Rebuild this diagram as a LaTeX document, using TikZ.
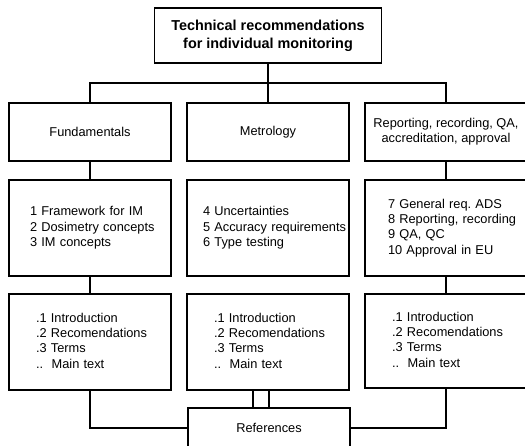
\documentclass[tikz,border=0pt]{standalone}
\usepackage{fontspec}
\setmainfont{Liberation Sans}
\usetikzlibrary{calc}

\newcommand{\lst}[1]{\begin{tabular}{@{}l@{}}#1\end{tabular}}

\tikzset{
  box/.style={draw, line width=1.5pt, minimum width=162pt,
    font=\fontsize{12.8}{15.3}\selectfont},
  topic/.style={box, minimum height=58pt, align=center, inner sep=0pt},
  chap/.style 2 args={box, minimum height=96pt, inner xsep=#1, text width=#2},
  link/.style={line width=1.5pt}
}

\begin{document}
\begin{tikzpicture}[x=1pt,y=-1pt]
\useasboundingbox (0,0) rectangle (525,446);
\node[draw, line width=1.5pt, minimum width=227pt, minimum height=55pt, align=center,
  font=\bfseries\fontsize{14.4}{18}\selectfont] (title) at (268,35.5)
  {Technical recommendations\\for individual monitoring};
\node[topic] (fund) at (90,132) {Fundamentals};
\node[topic] (metr) at (268,132) {Metrology};
\node[topic] (repo) at (446,132) {Reporting, recording, QA,\\accreditation, approval};
\node[chap={21pt}{120pt}] (fund2) at (90,228)
  {\lst{1 Framework for IM\\2 Dosimetry concepts\\3 IM concepts}};
\node[chap={16pt}{130pt}] (metr2) at (268,228)
  {\lst{4 Uncertainties\\5 Accuracy requirements\\6 Type testing}};
\node[chap={23pt}{116pt}] (repo2) at (446,228)
  {\lst{7 General req.\ ADS\\8 Reporting, recording\\9 QA, QC\\10 Approval in EU}};
\node[chap={27pt}{108pt}] (fund3) at (90,342)
  {\lst{.1 Introduction\\.2 Recomendations\\.3 Terms\\..\ \ Main text}};
\node[chap={27pt}{108pt}] (metr3) at (268,342)
  {\lst{.1 Introduction\\.2 Recomendations\\.3 Terms\\..\ \ Main text}};
\node[chap={27pt}{108pt}, minimum height=94pt] (repo3) at (446,341)
  {\lst{.1 Introduction\\.2 Recomendations\\.3 Terms\\..\ \ Main text}};
\node[box, minimum height=40pt] (refs) at (269,428) {References};
\draw[link] (title) -- (metr);
\draw[link] (fund.north) -- ++(0,-19) -| (repo.north);
\draw[link] (fund) -- (fund2);
\draw[link] (repo) -- (repo2);
\draw[link] (fund2) -- (fund3);
\draw[link] (repo2) -- (repo3);
\draw[link] (fund3.south) |- (refs.west);
\draw[link] (repo3.south) |- (refs.east);
\draw[link] ([xshift=-15pt]metr3.south) -- ([xshift=-16pt]refs.north);
\draw[link] ([xshift=1pt]metr3.south) -- (refs.north);
\end{tikzpicture}
\end{document}
